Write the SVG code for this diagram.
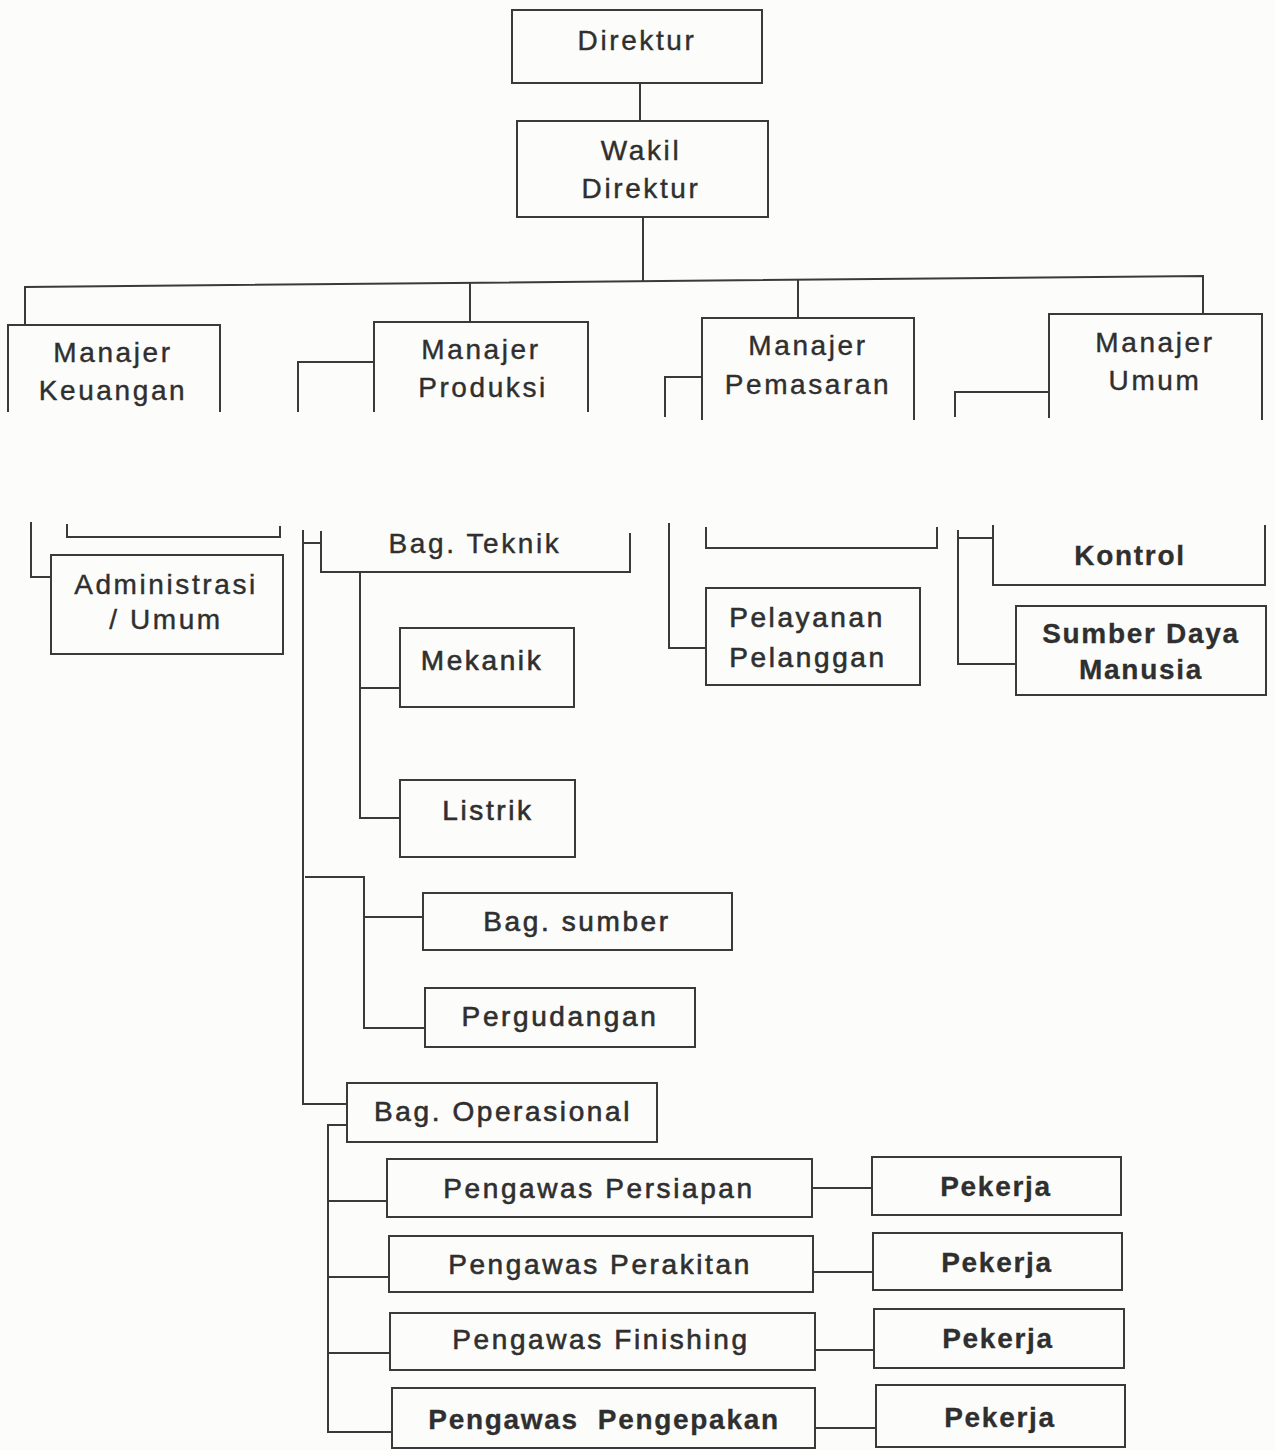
<svg xmlns="http://www.w3.org/2000/svg" width="1275" height="1450" viewBox="0 0 1275 1450">
<style>
.bg{fill:#fcfcfa}
.bx{fill:none;stroke:#3a3a3a;stroke-width:2}
.ln{fill:none;stroke:#3a3a3a;stroke-width:2}
text{font-family:"Liberation Sans",Arial,sans-serif;font-size:28px;fill:#2f2f2f;text-anchor:middle;letter-spacing:2.6px;stroke:#2f2f2f;stroke-width:0.4}
.m{stroke-width:0.6}
.b{font-weight:bold;letter-spacing:1.7px;stroke-width:0.3}
</style>
<defs>
<clipPath id="clipTeknik"><rect x="300" y="533" width="340" height="40"/></clipPath>
</defs>
<rect class="bg" x="0" y="0" width="1275" height="1450"/>

<g id="connectors">
<path class="ln" d="M640,83 V121"/>
<path class="ln" d="M643,217 V281"/>
<path class="ln" d="M25,325 V287 L1203,276 V313"/>
<path class="ln" d="M470,283 V322"/>
<path class="ln" d="M798,280 V318"/>
<path class="ln" d="M31,522 V577 H51"/>
<path class="ln" d="M298,412 V362 H375"/>
<path class="ln" d="M303,530 V1104 H347"/>
<path class="ln" d="M303,543 H321"/>
<path class="ln" d="M360,572 V818 H400"/>
<path class="ln" d="M360,688 H400"/>
<path class="ln" d="M305,877 H364 V1028 H425"/>
<path class="ln" d="M364,917 H423"/>
<path class="ln" d="M347,1125 H328 V1432 H392"/>
<path class="ln" d="M328,1201 H387"/>
<path class="ln" d="M328,1277 H389"/>
<path class="ln" d="M328,1353 H390"/>
<path class="ln" d="M812,1188 H872"/>
<path class="ln" d="M813,1272 H873"/>
<path class="ln" d="M815,1350 H874"/>
<path class="ln" d="M815,1428 H876"/>
<path class="ln" d="M665,417 V377 H702"/>
<path class="ln" d="M669,523 V648 H706"/>
<path class="ln" d="M955,417 V392 H1049"/>
<path class="ln" d="M958,530 V664 H1016"/>
<path class="ln" d="M958,538 H993"/>
</g>

<g id="direktur">
<rect class="bx" x="512" y="10" width="250" height="73"/>
<text x="637" y="50">Direktur</text>
</g>
<g id="wakil-direktur">
<rect class="bx" x="517" y="121" width="251" height="96"/>
<text x="641" y="160">Wakil</text>
<text x="641" y="198">Direktur</text>
</g>

<g id="manajer-keuangan">
<path class="bx" d="M8,412 V325 H220 V412"/>
<text x="113" y="362">Manajer</text>
<text x="113" y="400">Keuangan</text>
</g>
<g id="manajer-produksi">
<path class="bx" d="M374,412 V322 H588 V412"/>
<text x="481" y="359">Manajer</text>
<text x="483" y="397">Produksi</text>
</g>
<g id="manajer-pemasaran">
<path class="bx" d="M702,420 V318 H914 V420"/>
<text x="808" y="355">Manajer</text>
<text x="808" y="394">Pemasaran</text>
</g>
<g id="manajer-umum">
<path class="bx" d="M1049,418 V314 H1262 V420"/>
<text x="1155" y="352">Manajer</text>
<text x="1155" y="390">Umum</text>
</g>

<g id="keuangan-sub">
<path class="bx" d="M67,524 V537 H280 V526"/>
</g>
<g id="administrasi-umum">
<rect class="bx" x="51" y="555" width="232" height="99"/>
<text x="166" y="594">Administrasi</text>
<text x="166" y="629">/ Umum</text>
</g>

<g id="bag-teknik">
<path class="bx" d="M321,531 V572 H630 V533"/>
<text x="475" y="553" clip-path="url(#clipTeknik)">Bag. Teknik</text>
</g>
<g id="mekanik">
<rect class="bx" x="400" y="628" width="174" height="79"/>
<text class="m" x="482" y="670">Mekanik</text>
</g>
<g id="listrik">
<rect class="bx" x="400" y="780" width="175" height="77"/>
<text class="m" x="488" y="820">Listrik</text>
</g>
<g id="bag-sumber">
<rect class="bx" x="423" y="893" width="309" height="57"/>
<text class="m" x="577" y="931">Bag. sumber</text>
</g>
<g id="pergudangan">
<rect class="bx" x="425" y="988" width="270" height="59"/>
<text class="m" x="560" y="1026">Pergudangan</text>
</g>
<g id="bag-operasional">
<rect class="bx" x="347" y="1083" width="310" height="59"/>
<text class="m" x="503" y="1121">Bag. Operasional</text>
</g>

<g id="pengawas-persiapan">
<rect class="bx" x="387" y="1159" width="425" height="58"/>
<text class="m" x="599" y="1198">Pengawas Persiapan</text>
</g>
<g id="pekerja-1">
<rect class="bx" x="872" y="1157" width="249" height="58"/>
<text class="b" x="996" y="1196">Pekerja</text>
</g>
<g id="pengawas-perakitan">
<rect class="bx" x="389" y="1236" width="424" height="56"/>
<text class="m" x="600" y="1274">Pengawas Perakitan</text>
</g>
<g id="pekerja-2">
<rect class="bx" x="873" y="1233" width="249" height="57"/>
<text class="b" x="997" y="1272">Pekerja</text>
</g>
<g id="pengawas-finishing">
<rect class="bx" x="390" y="1313" width="425" height="57"/>
<text class="m" x="601" y="1349">Pengawas Finishing</text>
</g>
<g id="pekerja-3">
<rect class="bx" x="874" y="1309" width="250" height="59"/>
<text class="b" x="998" y="1348">Pekerja</text>
</g>
<g id="pengawas-pengepakan">
<rect class="bx" x="392" y="1388" width="423" height="60"/>
<text class="b" x="604" y="1429" xml:space="preserve">Pengawas  Pengepakan</text>
</g>
<g id="pekerja-4">
<rect class="bx" x="876" y="1385" width="249" height="62"/>
<text class="b" x="1000" y="1427">Pekerja</text>
</g>

<g id="pemasaran-sub">
<path class="bx" d="M706,527 V548 H937 V527"/>
</g>
<g id="pelayanan-pelanggan">
<rect class="bx" x="706" y="588" width="214" height="97"/>
<text class="m" x="807" y="627">Pelayanan</text>
<text class="m" x="808" y="667">Pelanggan</text>
</g>

<g id="kontrol">
<path class="bx" d="M993,525 V585 H1265 V525"/>
<text class="b" x="1130" y="565">Kontrol</text>
</g>
<g id="sumber-daya-manusia">
<rect class="bx" x="1016" y="606" width="250" height="89"/>
<text class="b" x="1141" y="643">Sumber Daya</text>
<text class="b" x="1141" y="679">Manusia</text>
</g>
</svg>
